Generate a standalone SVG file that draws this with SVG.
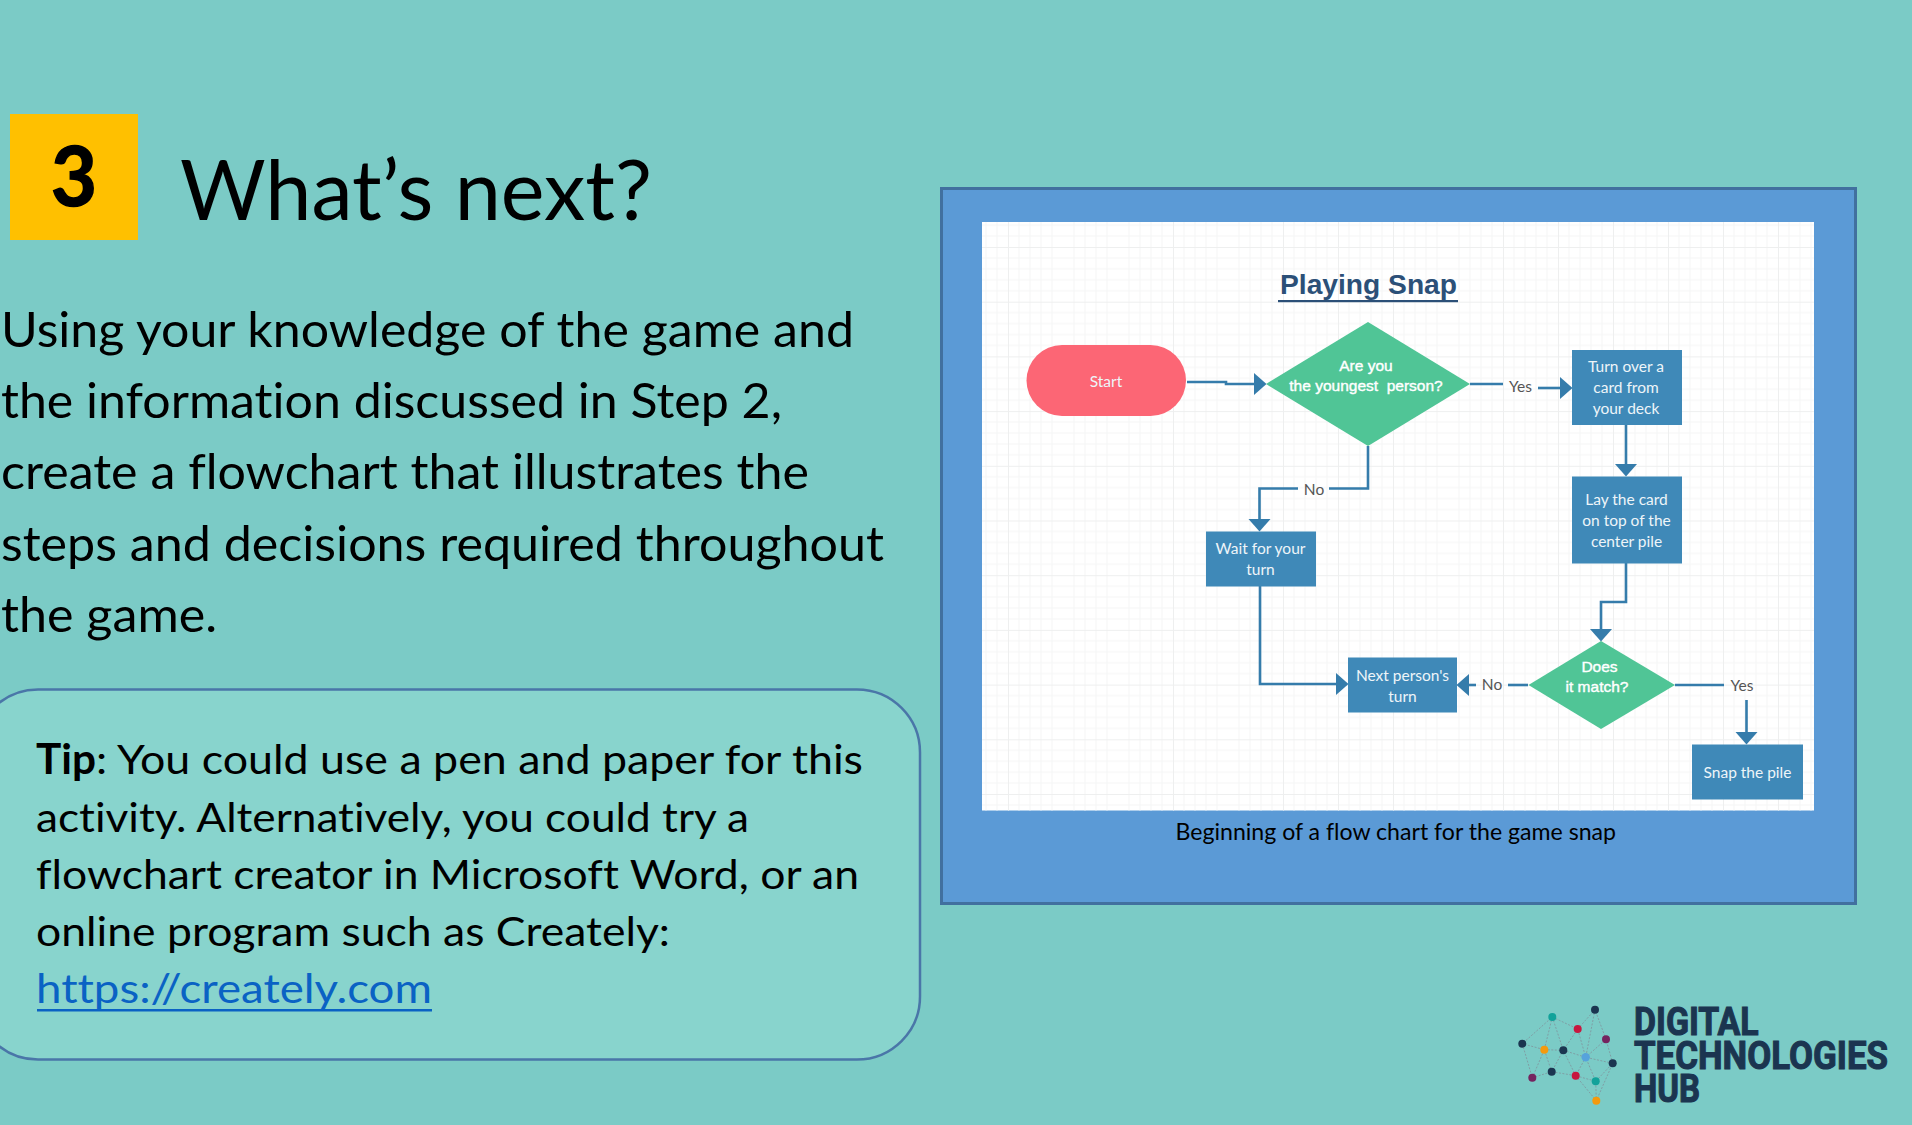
<svg xmlns="http://www.w3.org/2000/svg" width="1912" height="1125" viewBox="0 0 1912 1125">
<defs>
<style>
text{font-variant-ligatures:none}
.slide{fill:#000;font-family:Lato,"Open Sans",sans-serif}
.body{font-size:48px}
.tip{font-size:41.5px}
.box{fill:#3f89b8}
.dia{fill:#50c596}
.bt{fill:#eef5f9;font-family:Lato,"Open Sans",sans-serif;font-size:15.5px;text-anchor:middle}
.dt{fill:#fff;font-family:"Liberation Sans",Arial,sans-serif;font-size:15.5px;text-anchor:middle;stroke:#fff;stroke-width:.4}
.lab{fill:#555;font-family:Lato,"Open Sans",sans-serif;font-size:15.5px;text-anchor:middle}
.conn{fill:none;stroke:#357cab;stroke-width:2.6}
.net{stroke:#7f9fa5;stroke-width:1;stroke-dasharray:2 1.5;fill:none}
.logo{fill:#1b3550;font-family:Roboto,"Liberation Sans",sans-serif;font-weight:700;font-size:39px;stroke:#1b3550;stroke-width:1.1}
</style>
<marker id="arrow" markerUnits="userSpaceOnUse" markerWidth="13" markerHeight="23" refX="6" refY="11.5" orient="auto" viewBox="0 0 13 23"><path d="M0 0.5L12.5 11.5L0 22.5Z" fill="#357cab"/></marker>
<pattern id="grid" patternUnits="userSpaceOnUse" x="1008" y="247" width="55" height="54.7">
<path d="M11 0V54.7M22 0V54.7M33 0V54.7M44 0V54.7M0 10.94H55M0 21.88H55M0 32.82H55M0 43.76H55" stroke="#f5f6f6" stroke-width="1" fill="none"/>
<path d="M0.5 0V54.7M0 0.5H55" stroke="#eeefef" stroke-width="1" fill="none"/>
</pattern>
</defs>
<rect width="1912" height="1125" fill="#7bcbc6"/>

<g id="step-badge">
<rect x="10" y="114" width="128" height="126" fill="#ffc000"/>
<text class="slide" x="51" y="206" font-size="82" font-weight="700" stroke="#000" stroke-width="1.5" textLength="46" lengthAdjust="spacingAndGlyphs">3</text>
</g>
<text id="heading" class="slide" x="180" y="220" font-size="84" textLength="472" lengthAdjust="spacingAndGlyphs">What’s next?</text>

<g id="body-text">
<text class="slide body" x="1" y="347" textLength="853" lengthAdjust="spacingAndGlyphs">Using your knowledge of the game and</text>
<text class="slide body" x="1" y="418" textLength="781" lengthAdjust="spacingAndGlyphs">the information discussed in Step 2,</text>
<text class="slide body" x="1" y="489" textLength="808" lengthAdjust="spacingAndGlyphs">create a flowchart that illustrates the</text>
<text class="slide body" x="1" y="561" textLength="883" lengthAdjust="spacingAndGlyphs">steps and decisions required throughout</text>
<text class="slide body" x="1" y="632" textLength="216" lengthAdjust="spacingAndGlyphs">the game.</text>
</g>

<g id="tip-box">
<rect x="-25" y="689.500" width="945" height="370" rx="63" ry="63" fill="#88d4cd" stroke="#4a76a8" stroke-width="2.5"/>
<text class="slide tip" x="36" y="774" font-weight="700" textLength="60" lengthAdjust="spacingAndGlyphs">Tip</text>
<text class="slide tip" x="96" y="774" textLength="767" lengthAdjust="spacingAndGlyphs">: You could use a pen and paper for this</text>
<text class="slide tip" x="36" y="832" textLength="713" lengthAdjust="spacingAndGlyphs">activity. Alternatively, you could try a</text>
<text class="slide tip" x="36" y="889" textLength="823" lengthAdjust="spacingAndGlyphs">flowchart creator in Microsoft Word, or an</text>
<text class="slide tip" x="36" y="946" textLength="634" lengthAdjust="spacingAndGlyphs">online program such as Creately:</text>
<text class="slide tip" x="36" y="1003" textLength="396" lengthAdjust="spacingAndGlyphs" style="fill:#0a62c4">https://creately.com</text>
<rect x="37" y="1009" width="395" height="2.500" fill="#0a62c4"/>
</g>

<g id="figure-frame">
<rect x="941.500" y="188.500" width="914" height="715" fill="#5b9ad6" stroke="#41709f" stroke-width="3"/>
<rect x="982" y="222" width="832" height="588.500" fill="#fff"/>
<rect x="982" y="222" width="832" height="588.500" fill="url(#grid)"/>
<text class="slide" x="1175.500" y="840" font-size="23.500" textLength="440.500" lengthAdjust="spacingAndGlyphs">Beginning of a flow chart for the game snap</text>
</g>

<g id="chart-title">
<text x="1280" y="294" font-family="'Liberation Sans',Arial,sans-serif" font-weight="700" font-size="28.500" fill="#2c5078" textLength="177" lengthAdjust="spacingAndGlyphs">Playing Snap</text>
<rect x="1278" y="300" width="180" height="2.200" fill="#2c5078"/>
</g>

<g id="connectors">
<path class="conn" d="M1187 382H1226V384H1260" marker-end="url(#arrow)"/>
<path class="conn" d="M1470 384H1503"/>
<path class="conn" d="M1538 388H1566" marker-end="url(#arrow)"/>
<path class="conn" d="M1626 425V470" marker-end="url(#arrow)"/>
<path class="conn" d="M1368 446V488.500H1329"/>
<path class="conn" d="M1298 488.500H1259.500V525" marker-end="url(#arrow)"/>
<path class="conn" d="M1260 586V684H1342" marker-end="url(#arrow)"/>
<path class="conn" d="M1626 563V602H1601V635" marker-end="url(#arrow)"/>
<path class="conn" d="M1528 685H1508"/>
<path class="conn" d="M1476 685H1463" marker-end="url(#arrow)"/>
<path class="conn" d="M1675 685H1724"/>
<path class="conn" d="M1746.500 700V738" marker-end="url(#arrow)"/>
<text class="lab" x="1314" y="495">No</text>
<text class="lab" x="1520.500" y="392">Yes</text>
<text class="lab" x="1492" y="690">No</text>
<text class="lab" x="1742" y="691">Yes</text>
</g>

<g id="start">
<rect x="1026.500" y="345" width="159.500" height="71" rx="35.500" fill="#fc6675"/>
<text class="bt" x="1106" y="386.500">Start</text>
</g>
<g id="decision-youngest">
<path class="dia" d="M1368 322L1470 384L1368 446L1266 384Z"/>
<text class="dt" x="1366" y="371">Are you</text>
<text class="dt" x="1366" y="391" xml:space="preserve">the youngest  person?</text>
</g>
<g id="turn-over">
<rect class="box" x="1572" y="350" width="110" height="75"/>
<text class="bt" x="1626" y="372">Turn over a</text>
<text class="bt" x="1626" y="393">card from</text>
<text class="bt" x="1626" y="414">your deck</text>
</g>
<g id="lay-card">
<rect class="box" x="1572" y="476.500" width="110" height="87"/>
<text class="bt" x="1626.500" y="505">Lay the card</text>
<text class="bt" x="1626.500" y="526">on top of the</text>
<text class="bt" x="1626.500" y="547">center pile</text>
</g>
<g id="wait">
<rect class="box" x="1206" y="531.500" width="110" height="55"/>
<text class="bt" x="1260.500" y="554">Wait for your</text>
<text class="bt" x="1260.500" y="575">turn</text>
</g>
<g id="next-person">
<rect class="box" x="1348" y="657.500" width="109" height="55"/>
<text class="bt" x="1402.500" y="680.500">Next person's</text>
<text class="bt" x="1402.500" y="701.500">turn</text>
</g>
<g id="decision-match">
<path class="dia" d="M1601 641L1675 685L1601 729L1528.500 685Z"/>
<text class="dt" x="1599.500" y="672">Does</text>
<text class="dt" x="1597" y="692">it match?</text>
</g>
<g id="snap-pile">
<rect class="box" x="1692" y="744.500" width="111" height="55"/>
<text class="bt" x="1747.500" y="777.500">Snap the pile</text>
</g>

<g id="hub-logo">
<path class="net" d="M1552.300 1017L1577.700 1029L1595 1009.700L1606 1039.300L1612.700 1063.300L1596.300 1100.700L1595.700 1081.300L1575.700 1075.700L1551.700 1071.700L1532.300 1077.700L1522.300 1043.700L1552.300 1017L1544.300 1049.700L1522.300 1043.700M1544.300 1049.700L1563.300 1050.300L1577.700 1029L1585.700 1057.300L1606 1039.300M1563.300 1050.300L1585.700 1057.300L1612.700 1063.300L1595.700 1081.300L1585.700 1057.300L1575.700 1075.700L1563.300 1050.300L1551.700 1071.700L1544.300 1049.700L1532.300 1077.700M1552.300 1017L1563.300 1050.300M1575.700 1075.700L1596.300 1100.700M1595 1009.700L1585.700 1057.300"/>
<g fill="#1b3550"><circle cx="1595" cy="1009.700" r="4"/><circle cx="1522.300" cy="1043.700" r="4"/><circle cx="1563.300" cy="1050.300" r="4"/><circle cx="1612.700" cy="1063.300" r="4"/><circle cx="1551.700" cy="1071.700" r="4"/></g>
<g fill="#12a29a"><circle cx="1552.300" cy="1017" r="4"/><circle cx="1595.700" cy="1081.300" r="4"/></g>
<g fill="#c8173f"><circle cx="1577.700" cy="1029" r="4"/><circle cx="1575.700" cy="1075.700" r="4"/></g>
<g fill="#75245f"><circle cx="1606" cy="1039.300" r="4"/><circle cx="1532.300" cy="1077.700" r="4"/></g>
<g fill="#f49a0e"><circle cx="1544.300" cy="1049.700" r="4"/><circle cx="1596.300" cy="1100.700" r="4"/></g>
<circle cx="1585.700" cy="1057.300" r="4.200" fill="#56a3dc"/>
<text class="logo" transform="translate(1634 1035) scale(.93 1)" textLength="134" lengthAdjust="spacingAndGlyphs">DIGITAL</text>
<text class="logo" transform="translate(1634 1068.700) scale(.87 1)" textLength="292" lengthAdjust="spacingAndGlyphs">TECHNOLOGIES</text>
<text class="logo" transform="translate(1634 1102) scale(.87 1)" textLength="76" lengthAdjust="spacingAndGlyphs">HUB</text>
</g>
</svg>
